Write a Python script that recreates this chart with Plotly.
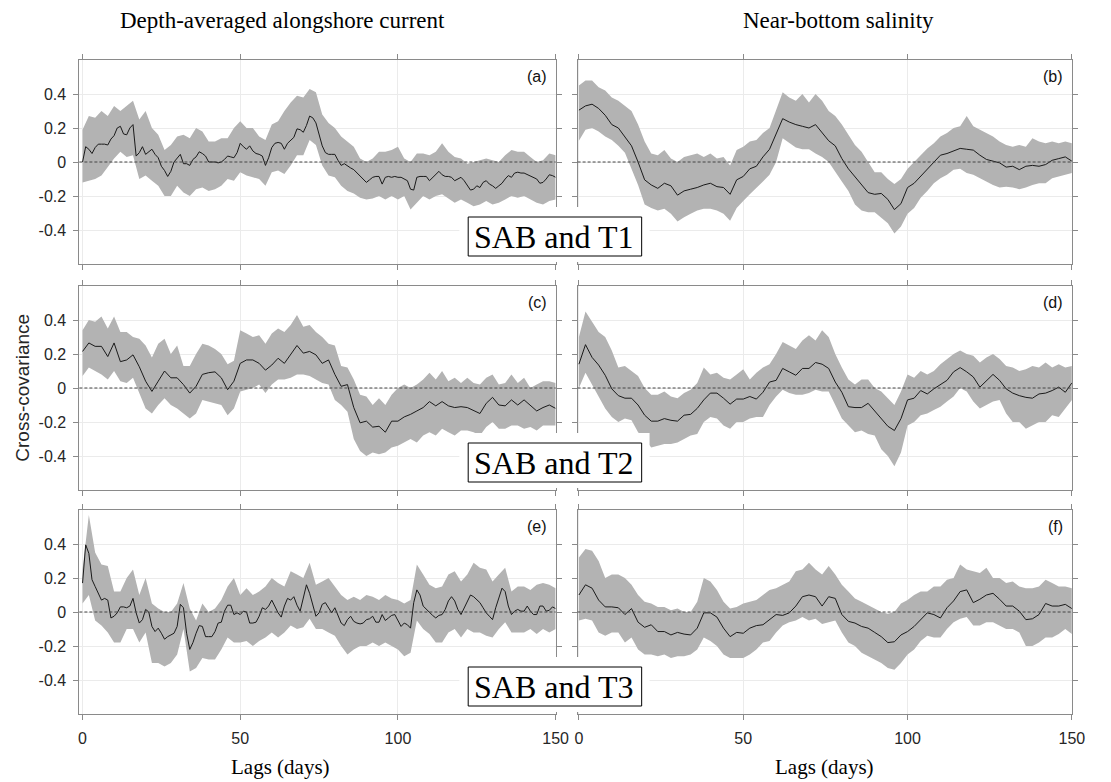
import plotly.graph_objects as go

# ---------------- data ----------------
LAGS_DAILY = list(range(0, 151))
LAGS = list(range(0, 151, 2))

a_line = [0.0, 0.09, 0.075, 0.05, 0.085, 0.105, 0.105, 0.105, 0.10, 0.135,
          0.155, 0.2, 0.21, 0.165, 0.16, 0.2, 0.22, 0.035, 0.055, 0.09,
          0.045, 0.06, 0.075, 0.045, 0.025, -0.025, -0.05, -0.085, -0.055, 0.0,
          0.025, 0.045, -0.01, -0.01, -0.02, 0.015, 0.03, 0.06, 0.05, 0.035,
          0.0, 0.0, 0.0, -0.005, 0.0, 0.015, 0.035, 0.03, 0.025, 0.055,
          0.11, 0.09, 0.075, 0.095, 0.065, 0.05, 0.045, 0.035, -0.02, 0.025,
          0.085, 0.11, 0.115, 0.11, 0.075, 0.11, 0.125, 0.145, 0.195, 0.19,
          0.175, 0.215, 0.27, 0.26, 0.23, 0.165, 0.095, 0.055, 0.045, 0.045,
          0.045, 0.01, -0.02, -0.01, -0.025, -0.035, -0.045, -0.065, -0.085, -0.1,
          -0.12, -0.105, -0.09, -0.085, -0.085, -0.13, -0.09, -0.085, -0.09, -0.085,
          -0.09, -0.09, -0.1, -0.11, -0.16, -0.165, -0.09, -0.085, -0.085, -0.085,
          -0.11, -0.09, -0.075, -0.055, -0.075, -0.085, -0.085, -0.09, -0.11, -0.1,
          -0.09, -0.11, -0.14, -0.165, -0.16, -0.14, -0.15, -0.12, -0.11, -0.13,
          -0.14, -0.155, -0.14, -0.125, -0.1, -0.08, -0.09, -0.065, -0.06, -0.065,
          -0.065, -0.075, -0.085, -0.09, -0.1, -0.125, -0.12, -0.1, -0.075, -0.08,
          -0.09]
a_up = [0.19, 0.27, 0.26, 0.30, 0.27, 0.33, 0.30, 0.33, 0.36, 0.25,
        0.30, 0.20, 0.16, 0.07, 0.10, 0.15, 0.16, 0.14, 0.20, 0.18,
        0.12, 0.12, 0.14, 0.14, 0.20, 0.24, 0.20, 0.20, 0.15, 0.13,
        0.22, 0.24, 0.30, 0.35, 0.39, 0.38, 0.43, 0.41, 0.28, 0.23,
        0.20, 0.15, 0.12, 0.09, 0.02, 0.00, 0.02, 0.06, 0.06, 0.07,
        0.09, 0.02, 0.00, 0.05, 0.05, 0.04, 0.06, 0.11, 0.06, 0.03,
        0.02, -0.01, 0.00, 0.01, 0.02, 0.01, 0.00, 0.04, 0.07, 0.06,
        0.06, 0.03, 0.00, 0.01, 0.05, 0.04]
a_lo = [-0.12, -0.11, -0.10, -0.08, -0.03, 0.02, 0.06, 0.03, 0.04, -0.10,
        -0.08, -0.11, -0.14, -0.20, -0.20, -0.14, -0.18, -0.20, -0.16, -0.15,
        -0.17, -0.16, -0.14, -0.10, -0.11, -0.06, -0.08, -0.09, -0.10, -0.14,
        -0.06, -0.05, -0.07, -0.02, 0.04, 0.04, 0.13, 0.10, -0.02, -0.08,
        -0.09, -0.14, -0.17, -0.185, -0.21, -0.22, -0.215, -0.20, -0.22, -0.20,
        -0.22, -0.20, -0.28, -0.24, -0.20, -0.22, -0.20, -0.19, -0.215, -0.24,
        -0.22, -0.24, -0.26, -0.25, -0.23, -0.25, -0.24, -0.22, -0.20, -0.21,
        -0.20, -0.22, -0.24, -0.25, -0.23, -0.22]

b_line = [0.305, 0.33, 0.34, 0.315, 0.275, 0.22, 0.2, 0.145, 0.095, 0.0,
          -0.105, -0.135, -0.155, -0.125, -0.14, -0.195, -0.17, -0.16, -0.15, -0.135,
          -0.125, -0.145, -0.15, -0.19, -0.105, -0.085, -0.04, -0.025, 0.03, 0.075,
          0.17, 0.255, 0.235, 0.22, 0.21, 0.2, 0.22, 0.175, 0.125, 0.095,
          0.02, -0.04, -0.085, -0.135, -0.18, -0.19, -0.185, -0.22, -0.28, -0.245,
          -0.15, -0.125, -0.085, -0.045, 0.0, 0.04, 0.05, 0.065, 0.08, 0.075,
          0.07, 0.04, 0.015, 0.005, -0.005, -0.03, -0.025, -0.045, -0.025, -0.02,
          -0.025, -0.015, 0.01, 0.02, 0.03, 0.005]
b_up = [0.45, 0.48, 0.48, 0.44, 0.42, 0.38, 0.36, 0.33, 0.30, 0.22,
        0.12, 0.05, 0.04, 0.07, 0.02, 0.00, 0.03, 0.04, 0.05, 0.03,
        0.05, 0.02, 0.03, -0.02, 0.07, 0.09, 0.12, 0.13, 0.17, 0.20,
        0.30, 0.41, 0.38, 0.36, 0.40, 0.35, 0.40, 0.36, 0.30, 0.27,
        0.22, 0.16, 0.10, 0.06, 0.00, -0.06, -0.06, -0.10, -0.13, -0.10,
        -0.04, 0.00, 0.04, 0.08, 0.11, 0.15, 0.17, 0.20, 0.21, 0.27,
        0.21, 0.19, 0.17, 0.15, 0.12, 0.10, 0.09, 0.10, 0.09, 0.14,
        0.12, 0.11, 0.12, 0.11, 0.12, 0.11]
b_lo = [0.125, 0.19, 0.20, 0.18, 0.15, 0.13, 0.095, 0.055, -0.04, -0.135,
        -0.25, -0.27, -0.285, -0.275, -0.305, -0.35, -0.325, -0.305, -0.285, -0.275,
        -0.275, -0.285, -0.305, -0.345, -0.27, -0.23, -0.19, -0.15, -0.115, -0.075,
        0.0, 0.14, 0.115, 0.085, 0.075, 0.075, 0.05, 0.03, 0.0, -0.055,
        -0.115, -0.17, -0.25, -0.285, -0.295, -0.295, -0.325, -0.36, -0.42, -0.38,
        -0.305, -0.27, -0.21, -0.17, -0.125, -0.095, -0.075, -0.045, -0.04, -0.065,
        -0.075, -0.095, -0.115, -0.135, -0.15, -0.145, -0.15, -0.16, -0.15, -0.135,
        -0.125, -0.125, -0.095, -0.085, -0.075, -0.065]

c_line = [0.215, 0.265, 0.245, 0.245, 0.185, 0.265, 0.155, 0.165, 0.195, 0.125,
          0.04, -0.02, 0.04, 0.1, 0.06, 0.06, 0.02, -0.03, 0.01, 0.08,
          0.09, 0.095, 0.06, -0.01, 0.04, 0.145, 0.165, 0.165, 0.145, 0.105,
          0.135, 0.175, 0.145, 0.195, 0.25, 0.205, 0.215, 0.195, 0.145, 0.165,
          0.08, 0.01, 0.02, -0.115, -0.205, -0.195, -0.23, -0.225, -0.26, -0.195,
          -0.195, -0.17, -0.155, -0.135, -0.115, -0.08, -0.105, -0.08, -0.105, -0.115,
          -0.11, -0.115, -0.135, -0.15, -0.09, -0.055, -0.1, -0.105, -0.07, -0.1,
          -0.07, -0.105, -0.135, -0.115, -0.1, -0.12]
c_up = [0.34, 0.40, 0.39, 0.42, 0.35, 0.42, 0.33, 0.33, 0.30, 0.29,
        0.25, 0.18, 0.26, 0.29, 0.20, 0.25, 0.13, 0.13, 0.20, 0.26,
        0.25, 0.23, 0.20, 0.14, 0.16, 0.34, 0.32, 0.30, 0.31, 0.26,
        0.32, 0.35, 0.33, 0.37, 0.43, 0.36, 0.37, 0.33, 0.30, 0.26,
        0.25, 0.13, 0.12, 0.05, -0.04, -0.05, -0.10, -0.06, -0.10, -0.04,
        0.00, 0.02, 0.00, 0.02, 0.05, 0.09, 0.05, 0.10, 0.04, 0.06,
        0.03, 0.06, 0.03, 0.02, 0.06, 0.08, 0.02, 0.03, 0.08, 0.03,
        0.06, 0.00, 0.02, 0.04, 0.04, 0.03]
c_lo = [0.07, 0.12, 0.10, 0.08, 0.05, 0.10, 0.04, 0.03, 0.06, -0.03,
        -0.12, -0.15, -0.10, -0.06, -0.10, -0.12, -0.15, -0.18, -0.15, -0.07,
        -0.08, -0.09, -0.10, -0.16, -0.12, -0.02, -0.01, 0.00, 0.02, -0.03,
        0.02, 0.05, 0.05, 0.06, 0.08, 0.08, 0.07, 0.05, 0.03, 0.02,
        -0.07, -0.10, -0.14, -0.30, -0.37, -0.40, -0.38, -0.39, -0.38, -0.35,
        -0.34, -0.32, -0.30, -0.32, -0.28, -0.26, -0.28, -0.24, -0.26, -0.28,
        -0.25, -0.25, -0.26, -0.28, -0.23, -0.20, -0.24, -0.24, -0.22, -0.22,
        -0.24, -0.23, -0.25, -0.22, -0.22, -0.22]

d_line = [0.14, 0.255, 0.18, 0.135, 0.075, -0.005, -0.045, -0.06, -0.06, -0.1,
          -0.16, -0.195, -0.195, -0.18, -0.19, -0.195, -0.16, -0.155, -0.12, -0.07,
          -0.03, -0.03, -0.06, -0.095, -0.065, -0.065, -0.05, -0.065, -0.025, 0.035,
          0.045, 0.115, 0.095, 0.075, 0.115, 0.115, 0.15, 0.14, 0.115, 0.035,
          -0.025, -0.11, -0.115, -0.115, -0.09, -0.135, -0.18, -0.225, -0.25, -0.18,
          -0.07, -0.06, -0.015, -0.035, -0.005, 0.02, 0.045, 0.095, 0.12, 0.095,
          0.065, 0.005, 0.045, 0.08, 0.045, -0.005, -0.03, -0.045, -0.055, -0.06,
          -0.035, -0.03, -0.015, 0.005, -0.025, 0.03]
d_up = [0.30, 0.45, 0.39, 0.33, 0.30, 0.22, 0.12, 0.13, 0.10, 0.07,
        0.00, -0.04, -0.04, -0.02, -0.05, -0.06, -0.03, -0.01, 0.03, 0.12,
        0.08, 0.09, 0.06, 0.05, 0.08, 0.11, 0.05, 0.09, 0.12, 0.14,
        0.20, 0.27, 0.25, 0.23, 0.28, 0.31, 0.28, 0.34, 0.30, 0.20,
        0.12, 0.05, 0.02, 0.05, 0.05, 0.00, -0.02, -0.06, -0.10, -0.02,
        0.08, 0.06, 0.10, 0.08, 0.10, 0.14, 0.17, 0.20, 0.22, 0.20,
        0.19, 0.15, 0.18, 0.20, 0.17, 0.13, 0.12, 0.10, 0.11, 0.13,
        0.12, 0.15, 0.12, 0.14, 0.12, 0.13]
d_lo = [0.00, 0.09, 0.02, -0.05, -0.12, -0.17, -0.20, -0.18, -0.19, -0.26,
        -0.30, -0.35, -0.34, -0.33, -0.33, -0.32, -0.30, -0.28, -0.27, -0.20,
        -0.17, -0.18, -0.22, -0.24, -0.20, -0.20, -0.18, -0.17, -0.17, -0.10,
        -0.05, -0.01, -0.03, -0.04, -0.04, -0.03, -0.01, -0.02, -0.02, -0.10,
        -0.18, -0.22, -0.26, -0.25, -0.27, -0.28, -0.36, -0.40, -0.46, -0.38,
        -0.22, -0.20, -0.16, -0.15, -0.13, -0.11, -0.08, -0.05, 0.00, -0.02,
        -0.08, -0.12, -0.10, -0.08, -0.07, -0.15, -0.20, -0.20, -0.24, -0.22,
        -0.20, -0.20, -0.16, -0.17, -0.12, -0.07]

e_line = [0.17, 0.395, 0.345, 0.19, 0.15, 0.11, 0.07, 0.08, 0.07, -0.035,
          -0.025, -0.005, 0.03, 0.03, 0.025, 0.035, 0.08, -0.005, -0.065, -0.045,
          0.015, 0.0, -0.085, -0.115, -0.095, -0.125, -0.16, -0.145, -0.135, -0.125,
          -0.085, 0.045, 0.025, -0.125, -0.22, -0.18, -0.125, -0.08, -0.085, -0.145,
          -0.145, -0.145, -0.115, -0.065, -0.06, 0.005, 0.04, 0.04, -0.015, -0.005,
          -0.015, 0.005, 0.0, -0.065, -0.065, -0.06, -0.025, 0.025, 0.015, 0.035,
          0.07, 0.035, -0.005, -0.03, 0.035, 0.08, 0.07, 0.09, 0.04, 0.005,
          0.09, 0.16, 0.11, 0.035, -0.025, -0.005, 0.045, 0.055, 0.025, -0.005,
          0.025, -0.015, -0.065, -0.08, -0.045, -0.025, -0.055, -0.065, -0.07, -0.065,
          -0.045, -0.04, -0.025, -0.06, -0.06, -0.015, -0.05, -0.035, -0.02, -0.015,
          -0.055, -0.085, -0.065, -0.075, -0.095, 0.055, 0.13, 0.1, 0.035, 0.015,
          -0.005, -0.02, -0.035, -0.02, -0.015, 0.015, 0.065, 0.09, 0.065, 0.015,
          -0.015, 0.025, 0.07, 0.1, 0.09, 0.07, 0.055, 0.025, -0.005, -0.025,
          -0.045, 0.025, 0.09, 0.14, 0.12, 0.035, -0.015, 0.005, 0.015, 0.005,
          0.005, 0.035, 0.005, -0.015, -0.015, 0.035, 0.035, 0.005, 0.01, 0.03,
          0.02]
e_up = [0.25, 0.57, 0.35, 0.28, 0.27, 0.12, 0.12, 0.20, 0.25, 0.10,
        0.20, 0.05, 0.02, 0.00, 0.00, 0.05, 0.17, 0.02, -0.05, 0.05,
        0.00, 0.02, 0.07, 0.15, 0.20, 0.10, 0.14, 0.10, 0.12, 0.15,
        0.20, 0.17, 0.15, 0.24, 0.22, 0.20, 0.29, 0.16, 0.18, 0.20,
        0.15, 0.10, 0.07, 0.09, 0.07, 0.10, 0.09, 0.07, 0.10, 0.08,
        0.07, 0.05, 0.07, 0.28, 0.22, 0.16, 0.14, 0.15, 0.22, 0.24,
        0.18, 0.22, 0.29, 0.26, 0.25, 0.18, 0.22, 0.26, 0.12, 0.15,
        0.15, 0.13, 0.16, 0.17, 0.16, 0.14]
e_lo = [0.05, 0.10, -0.05, -0.08, -0.12, -0.18, -0.18, -0.10, -0.10, -0.18,
        -0.12, -0.30, -0.30, -0.32, -0.30, -0.25, -0.10, -0.35, -0.33, -0.27,
        -0.28, -0.28, -0.22, -0.15, -0.18, -0.18, -0.17, -0.20, -0.17, -0.15,
        -0.12, -0.15, -0.12, -0.08, -0.10, -0.09, -0.04, -0.10, -0.10, -0.12,
        -0.14, -0.20, -0.25, -0.22, -0.20, -0.20, -0.18, -0.20, -0.18, -0.20,
        -0.22, -0.26, -0.24, -0.05, -0.10, -0.13, -0.18, -0.18, -0.12, -0.10,
        -0.15, -0.10, -0.12, -0.12, -0.14, -0.15, -0.10, -0.06, -0.12, -0.12,
        -0.12, -0.10, -0.13, -0.10, -0.12, -0.10]

f_line = [0.1, 0.16, 0.14, 0.07, 0.03, 0.03, 0.025, -0.015, 0.02, -0.06,
          -0.09, -0.075, -0.115, -0.115, -0.135, -0.12, -0.13, -0.135, -0.095, -0.005,
          -0.005, -0.03, -0.095, -0.145, -0.12, -0.125, -0.095, -0.08, -0.075, -0.045,
          -0.015, -0.02, -0.005, 0.035, 0.09, 0.1, 0.09, 0.035, 0.09, 0.08,
          -0.015, -0.055, -0.065, -0.085, -0.095, -0.12, -0.145, -0.18, -0.175, -0.135,
          -0.115, -0.085, -0.045, -0.005, -0.015, -0.035, 0.025, 0.065, 0.12, 0.13,
          0.055, 0.075, 0.1, 0.11, 0.075, 0.035, 0.035, 0.005, -0.045, -0.04,
          -0.015, 0.05, 0.035, 0.035, 0.045, 0.02]
f_up = [0.32, 0.37, 0.36, 0.30, 0.20, 0.22, 0.22, 0.20, 0.16, 0.10,
        0.06, 0.05, 0.03, 0.03, 0.01, 0.02, 0.00, 0.00, 0.06, 0.20,
        0.18, 0.13, 0.06, 0.02, 0.03, 0.05, 0.06, 0.07, 0.10, 0.13,
        0.14, 0.16, 0.18, 0.24, 0.25, 0.29, 0.25, 0.22, 0.27, 0.22,
        0.16, 0.12, 0.08, 0.06, 0.04, 0.02, 0.00, -0.01, 0.00, 0.05,
        0.07, 0.10, 0.12, 0.12, 0.15, 0.15, 0.19, 0.20, 0.28, 0.25,
        0.24, 0.23, 0.26, 0.20, 0.20, 0.17, 0.18, 0.15, 0.14, 0.14,
        0.15, 0.19, 0.17, 0.15, 0.15, 0.14]
f_lo = [-0.05, -0.04, -0.05, -0.12, -0.14, -0.12, -0.12, -0.18, -0.15, -0.22,
        -0.25, -0.25, -0.26, -0.25, -0.27, -0.26, -0.26, -0.25, -0.22, -0.15,
        -0.17, -0.20, -0.25, -0.27, -0.27, -0.27, -0.25, -0.22, -0.18, -0.17,
        -0.12, -0.08, -0.06, -0.05, -0.03, -0.05, -0.04, -0.07, -0.06, -0.05,
        -0.12, -0.18, -0.20, -0.24, -0.26, -0.28, -0.30, -0.33, -0.34, -0.30,
        -0.25, -0.22, -0.17, -0.14, -0.15, -0.15, -0.10, -0.06, -0.04, -0.03,
        -0.08, -0.08, -0.06, -0.06, -0.08, -0.10, -0.10, -0.12, -0.20, -0.20,
        -0.18, -0.15, -0.15, -0.13, -0.10, -0.13]

PANEL_LABELS = ["(a)", "(b)", "(c)", "(d)", "(e)", "(f)"]
COL_TITLES = ["Depth-averaged alongshore current", "Near-bottom salinity"]
ROW_BOXES = ["SAB and T1", "SAB and T2", "SAB and T3"]
Y_TICKS = [-0.4, -0.2, 0, 0.2, 0.4]
Y_TICKTEXT = ["-0.4", "-0.2", "0", "0.2", "0.4"]
X_TICKS = [0, 50, 100, 150]

# ---------------- layout geometry ----------------
W, H = 1111, 782
def px(x):
    return x / W
def py(y):
    return 1 - y / H

col_px = [(77.5, 560.7), (583.0, 1084.5)]
col_range = [[-1, 150], [-0.4, 150]]
row_px = [(60, 264), (286, 490), (510, 714)]

panels = [
    (a_line, LAGS_DAILY, a_up, a_lo),
    (b_line, LAGS, b_up, b_lo),
    (c_line, LAGS, c_up, c_lo),
    (d_line, LAGS, d_up, d_lo),
    (e_line, LAGS_DAILY, e_up, e_lo),
    (f_line, LAGS, f_up, f_lo),
]

SANS = "Liberation Sans, Arial, sans-serif"
TICKFONT = dict(family=SANS, size=16, color="#262626")
SERIF = "Liberation Serif, Times New Roman, serif"
FRAME = "#8a8a8a"
BAND = "#b3b3b3"

fig = go.Figure()
layout = dict(width=W, height=H, autosize=False, margin=dict(l=0, r=0, t=0, b=0),
              paper_bgcolor="white", plot_bgcolor="white", showlegend=False)
shapes = []
annotations = []

for i, (line, lx, up, lo) in enumerate(panels):
    r, c = divmod(i, 2)
    k = i + 1
    xa = "x" if k == 1 else f"x{k}"
    ya = "y" if k == 1 else f"y{k}"
    fig.add_trace(go.Scatter(x=LAGS + LAGS[::-1], y=up + lo[::-1], fill="toself",
                             fillcolor=BAND, line=dict(width=0), mode="lines",
                             hoverinfo="skip", xaxis=xa, yaxis=ya))
    fig.add_trace(go.Scatter(x=lx, y=line, mode="lines",
                             line=dict(color="#1a1a1a", width=1),
                             xaxis=xa, yaxis=ya))
    x0, x1 = col_px[c]
    y0, y1 = row_px[r]
    common = dict(showline=True, linecolor=FRAME, linewidth=1, mirror="ticks",
                  ticks="outside", ticklen=5, tickcolor=FRAME, tickwidth=1,
                  showgrid=True, gridcolor="#ebebeb", gridwidth=1, zeroline=False,
                  tickfont=TICKFONT)
    layout["xaxis" if k == 1 else f"xaxis{k}"] = dict(
        domain=[px(x0), px(x1)], range=col_range[c], anchor=ya,
        tickvals=X_TICKS, ticktext=[str(v) for v in X_TICKS],
        showticklabels=(r == 2), ticklabelstandoff=5, **common)
    layout["yaxis" if k == 1 else f"yaxis{k}"] = dict(
        domain=[py(y1), py(y0)], range=[-0.6, 0.6], anchor=xa,
        tickvals=Y_TICKS, ticktext=Y_TICKTEXT,
        showticklabels=(c == 0), ticklabelstandoff=4, **common)
    shapes.append(dict(type="line", xref=f"{xa} domain", yref=ya,
                       x0=0, x1=1, y0=0, y1=0,
                       line=dict(color="#444444", width=1, dash="3px,2px")))
    annotations.append(dict(text=PANEL_LABELS[i], xref="paper", yref="paper",
                            x=px(x1 - 7), y=py(y0 + 16), xanchor="right",
                            yanchor="middle", showarrow=False,
                            font=dict(family=SANS, size=16, color="#111")))

# white patches + boxed row labels
for r, txt in enumerate(ROW_BOXES):
    top = row_px[r][0]
    shapes.append(dict(type="rect", xref="paper", yref="paper", layer="above",
                       x0=px(463), x1=px(656), y0=py(top + 202), y1=py(top + 147),
                       fillcolor="white", line=dict(width=0)))
    shapes.append(dict(type="rect", xref="paper", yref="paper", layer="above",
                       x0=px(472), x1=px(648), y0=py(top + 196), y1=py(top + 157),
                       fillcolor="white", line=dict(color="black", width=1)))
    annotations.append(dict(text=txt, xref="paper", yref="paper",
                            x=px(559), y=py(top + 177), xanchor="center",
                            yanchor="middle", showarrow=False,
                            font=dict(family=SERIF, size=32, color="black")))

# column titles
for c, (t, cx) in enumerate(zip(COL_TITLES, [284, 848])):
    annotations.append(dict(text=t, xref="paper", yref="paper", x=px(cx), y=py(21),
                            xanchor="center", yanchor="middle", showarrow=False,
                            font=dict(family=SERIF, size=23, color="black")))
# x axis titles
for cx in [282, 834]:
    annotations.append(dict(text="Lags (days)", xref="paper", yref="paper",
                            x=px(cx), y=py(767), xanchor="center", yanchor="middle",
                            showarrow=False,
                            font=dict(family=SERIF, size=21, color="black")))
# y axis title
annotations.append(dict(text="Cross-covariance", xref="paper", yref="paper",
                        x=px(19), y=py(388), xanchor="center", yanchor="middle",
                        textangle=-90, showarrow=False,
                        font=dict(family=SANS, size=19, color="#262626")))

layout["shapes"] = shapes
layout["annotations"] = annotations
fig.update_layout(**layout)
fig.write_html("out.html", config={"displayModeBar": False},
               post_script="document.body.style.margin='0';document.body.style.padding='0';")
